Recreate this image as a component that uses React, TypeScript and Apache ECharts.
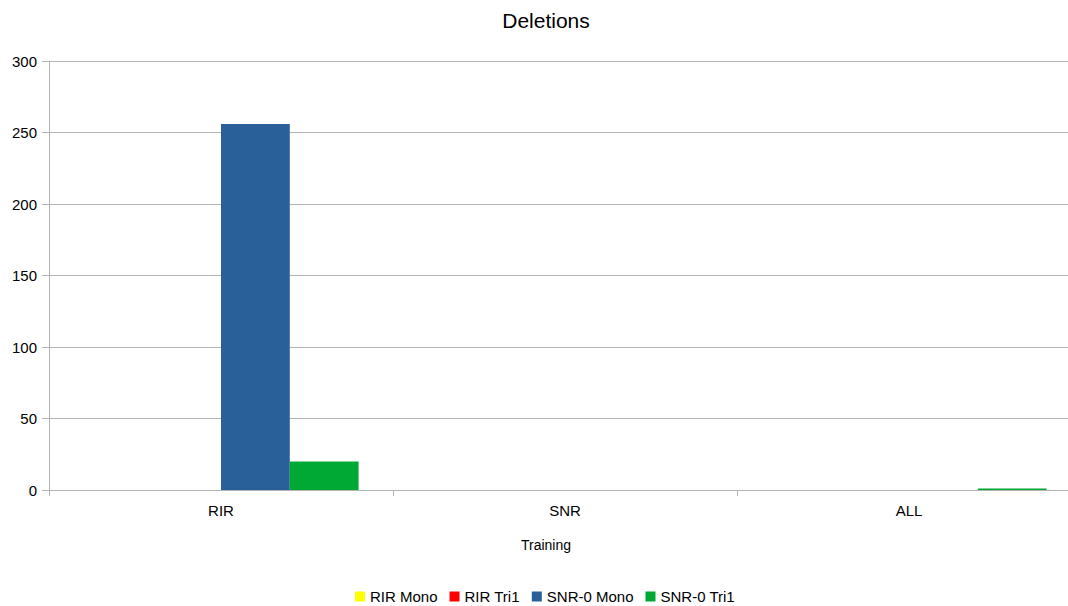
import React, { useEffect, useRef } from "react";
import * as echarts from "echarts";

const categories = ["RIR", "SNR", "ALL"];
const seriesNames = ["RIR Mono", "RIR Tri1", "SNR-0 Mono", "SNR-0 Tri1"];
const rirMono = [0, 0, 0];
const rirTri1 = [0, 0, 0];
const snrMono = [256, 0, 0];
const snrTri1 = [20, 0, 1];
const colors = ["#ffff00", "#ff0000", "#2a6099", "#00a933"];
const yTicks = { min: 0, max: 300, interval: 50 };

export default function App() {
  const ref = useRef<HTMLDivElement>(null);
  useEffect(() => {
    if (!ref.current) return;
    const chart = echarts.init(ref.current, undefined, { renderer: "svg" });
    const font = "'Liberation Sans', Arial, sans-serif";
    const data = [rirMono, rirTri1, snrMono, snrTri1];
    chart.setOption({
      animation: false,
      textStyle: { fontFamily: font },
      title: {
        text: "Deletions",
        left: 541,
        textAlign: "center",
        top: 5,
        textStyle: { fontSize: 21, fontWeight: "normal", color: "#000", fontFamily: font },
      },
      legend: {
        left: 355,
        top: 589,
        padding: 0,
        icon: "rect",
        itemWidth: 10,
        itemHeight: 10,
        itemGap: 12,
        textStyle: { fontSize: 15, color: "#000", fontFamily: font },
        data: seriesNames,
      },
      grid: { left: 49, top: 61, width: 1032, height: 429, containLabel: false },
      xAxis: {
        type: "category",
        data: categories,
        name: "Training",
        nameLocation: "middle",
        nameGap: 48,
        nameTextStyle: { fontSize: 14, color: "#000", fontFamily: font, padding: [0, 38, 0, 0] },
        axisLine: { lineStyle: { color: "#b3b3b3" } },
        axisTick: { show: true, length: 6, lineStyle: { color: "#b3b3b3" } },
        axisLabel: { fontSize: 15, color: "#000", margin: 13, fontFamily: font },
        splitLine: { show: false },
      },
      yAxis: {
        type: "value",
        min: yTicks.min,
        max: yTicks.max,
        interval: yTicks.interval,
        axisLine: { show: true, lineStyle: { color: "#b3b3b3" } },
        axisTick: { show: true, length: 7, lineStyle: { color: "#b3b3b3" } },
        axisLabel: { fontSize: 15, color: "#000", margin: 12, fontFamily: font },
        splitLine: { show: true, lineStyle: { color: "#b3b3b3" } },
      },
      series: seriesNames.map((name, i) => ({
        name,
        type: "bar",
        data: data[i],
        itemStyle: { color: colors[i] },
        barGap: "0%",
        barCategoryGap: "20%",
      })),
    });
    return () => chart.dispose();
  }, []);
  return (
    <div
      style={{ position: "fixed", left: 0, top: 0, width: 1068, height: 606, overflow: "hidden", background: "#fff" }}
    >
      <div ref={ref} style={{ width: 1100, height: 606 }} />
    </div>
  );
}
